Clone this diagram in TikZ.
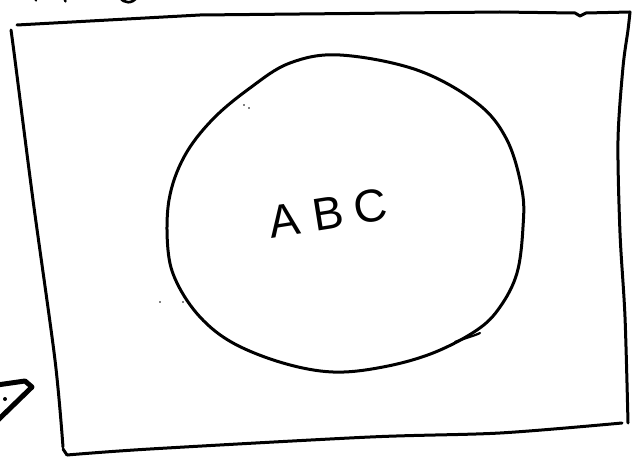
\documentclass[tikz,border=0pt]{standalone}
\usepackage{fontspec}
\newfontfamily\handfont{Liberation Sans}
\tikzset{
  pen/.style={line width=3pt, line cap=round, line join=round, draw=black},
  thickpen/.style={line width=5pt, line cap=round, line join=round, draw=black},
  handtext/.style={font=\handfont\fontsize{46}{46}\selectfont, inner sep=0pt}
}
\begin{document}
\begin{tikzpicture}[x=1pt,y=-1pt]
\useasboundingbox (0,0) rectangle (637,465);
\clip (0,0) rectangle (637,465);
\fill[white] (0,0) rectangle (637,465);
% fragments at the top edge
\draw[pen, line width=2.4pt] (35,-3) -- (36,0.5);
\draw[pen, line width=2.4pt] (64,-3) -- (65.5,1.5);
\draw[pen, line width=2.6pt] (120,-3) .. controls (123,4) and (133,4) .. (137,-3);
% rectangle (hand drawn)
\draw[pen] (17,25) -- (200,15) -- (500,12) -- (575,13) -- (580,16) -- (586,13) -- (630,12);
\draw[pen] plot[smooth, tension=0.5] coordinates {(630,12) (628,30) (623,67) (618,140) (620,233) (625,317) (628,423)};
\draw[pen] plot[smooth, tension=0.5] coordinates {(622,423) (500,433) (370,437) (150,449) (67,455)};
\draw[pen] (67,455) -- (63,449);
\draw[pen] plot[smooth, tension=0.5] coordinates {(11,30) (15,60) (33,200) (55,360) (63,447)};
% circle (hand drawn)
\draw[pen] plot[smooth cycle, tension=0.6] coordinates {
 (340,55) (290,63) (250,88) (212,120) (184,157) (169,200) (168,250)
 (177,283) (200,317) (233,343) (283,363) (333,372) (383,367) (433,353)
 (477,330) (500,307) (517,273) (523,227) (522,190) (507,140) (477,103)
 (417,70)};
\draw[pen, line width=2.2pt] (455,342) .. controls (465,338) and (474,336) .. (480,333);
% stray dots
\fill (244,105) circle (0.9);
\fill (249,108) circle (0.9);
\fill (160,302) circle (0.9);
\fill (183,302) circle (0.9);
% text
\node[handtext, rotate=9] (abc) at (328,213) {A\hspace{0.3em}B\hspace{0.25em}C};
% the "7" mark at lower left
\draw[thickpen] (-3,385) -- (25,381) -- (32,387) -- (-2,420);
\fill (5,399) circle (2);
\end{tikzpicture}
\end{document}
